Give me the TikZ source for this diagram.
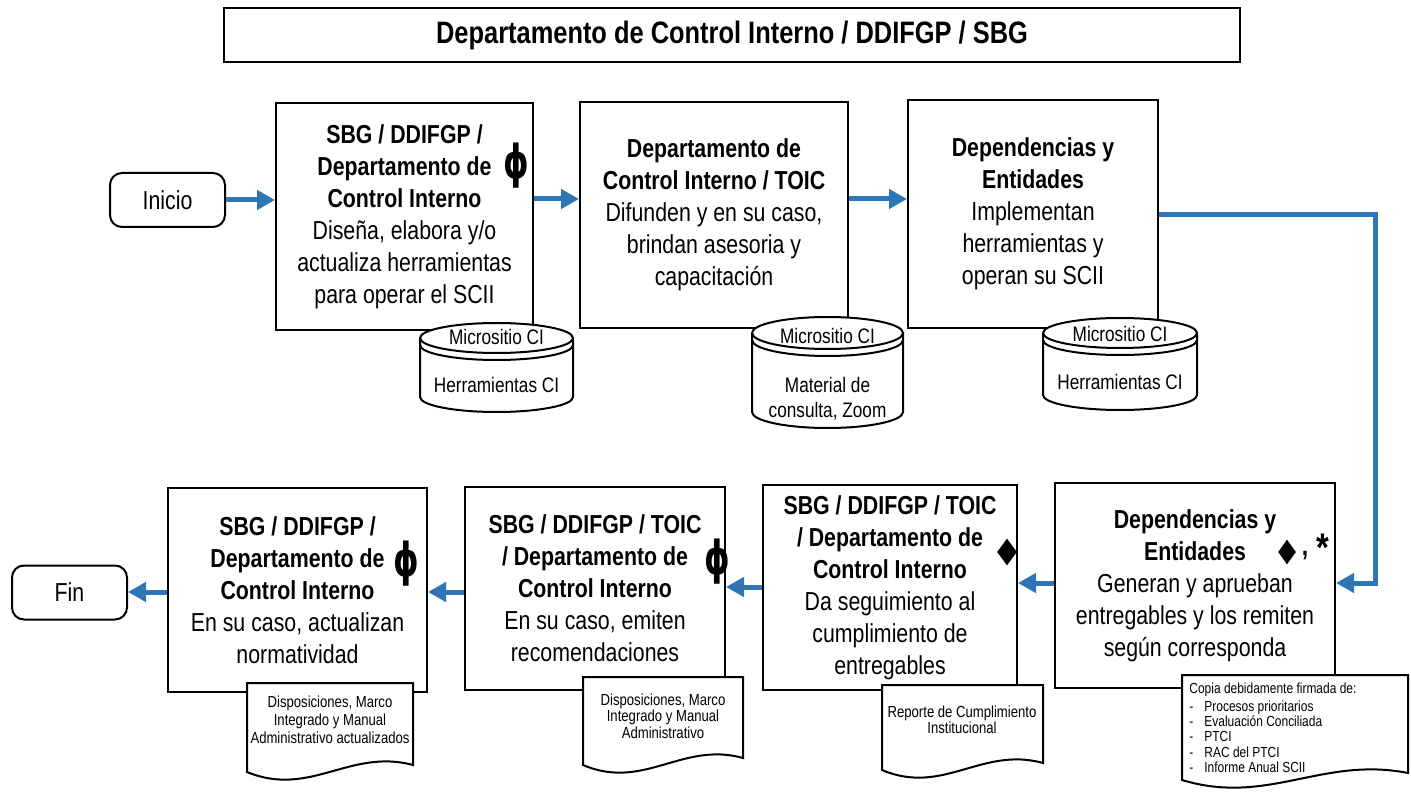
\documentclass[tikz,border=0pt]{standalone}
\usepackage{fontspec}
\setmainfont{Liberation Sans}[FakeStretch=0.82]
\newfontfamily\tksymfont{DejaVu Sans}
\usetikzlibrary{arrows.meta,shapes.geometric}
\definecolor{flowblue}{RGB}{46,117,182}
\newcommand{\tkBox}{\fontsize{13}{16}\selectfont}
\newcommand{\tkTitle}{\fontsize{15.5}{18}\selectfont\bfseries}
\newcommand{\tkCyl}{\fontsize{10.5}{12.5}\selectfont}
\newcommand{\tkDocA}{\fontsize{8}{9}\selectfont}
\newcommand{\tkDocB}{\fontsize{8}{8.2}\selectfont}
\newcommand{\tkSmall}{\fontsize{7.3}{7.6}\selectfont}
\newcommand{\tkphi}{\scalebox{0.9}[1.3]{\tksymfont\bfseries\fontsize{18}{18}\selectfont ϕ}}
% cylinder: x0, x1, top-centre y, bottom-centre y, ry   (px, y downwards)
\newcommand{\tkcyl}[5]{%
  \pgfmathsetmacro{\tkrx}{(#2-#1)/2}%
  \filldraw[line width=1pt,fill=white] (#1,-#3) -- (#1,-#4)
     arc[start angle=180,end angle=360,x radius=\tkrx,y radius=#5] -- (#2,-#3)
     arc[start angle=0,end angle=180,x radius=\tkrx,y radius=#5] -- cycle;
  \draw[line width=1pt] (#1,-#3) arc[start angle=180,end angle=360,x radius=\tkrx,y radius=#5];
  \draw[line width=1pt] (#1,{-#3-7}) arc[start angle=180,end angle=360,x radius=\tkrx,y radius=#5];
}
% document: x0, x1, top y, bottom-left y
\newcommand{\tkdoc}[4]{%
  \pgfmathsetmacro{\tkdw}{#2-#1}%
  \filldraw[line width=1pt,fill=white,line join=miter] (#1,-#3) -- (#2,-#3) -- (#2,{-(#4-7)})
     .. controls ({#1+0.62*\tkdw},{-(#4-24)}) and ({#1+0.38*\tkdw},{-(#4+26)}) .. (#1,-#4) -- cycle;
}
\begin{document}
\begin{tikzpicture}[x=0.5pt,y=0.5pt,
  proc/.style={draw,line width=1pt,fill=white,align=center,font=\tkBox,inner sep=2pt},
  term/.style={draw,line width=1pt,rounded corners=6pt,minimum width=57.5pt,minimum height=27pt,font=\tkBox},
  flow/.style={draw=flowblue,line width=2.5pt,-{Triangle[length=9pt,width=9.5pt]}},
  cyltext/.style={font=\tkCyl,align=center,inner sep=0pt},
  doctext/.style={align=center,inner sep=0pt}]
\useasboundingbox (0,0) rectangle (1411,-801);

% title
\node[draw,line width=1pt,minimum width=508pt,minimum height=27pt,font=\tkTitle] (title) at (732,-35)
  {Departamento de Control Interno / DDIFGP / SBG};

% top row
\node[term] (inicio) at (167.5,-200) {Inicio};
\node[proc,minimum width=128.5pt,minimum height=113.5pt] (b1) at (404.5,-216.5)
  {\textbf{SBG / DDIFGP /}\\\textbf{Departamento de}\\\textbf{Control Interno}\\Diseña, elabora y/o\\actualiza herramientas\\para operar el SCII};
\node[inner sep=0pt] (phi1) at (516,-166) {\tkphi};
\node[proc,minimum width=134pt,minimum height=113pt] (b2) at (714,-215)
  {\textbf{Departamento de}\\\textbf{Control Interno / TOIC}\\Difunden y en su caso,\\brindan asesoria y\\capacitación};
\node[proc,minimum width=125pt,minimum height=114pt] (b3) at (1033,-214)
  {\textbf{Dependencias y}\\\textbf{Entidades}\\Implementan\\herramientas  y\\operan su SCII};

\tkcyl{420}{573}{338}{397}{15}
\node[cyltext] (c1a) at (496.5,-337) {Micrositio CI};
\node[cyltext] (c1b) at (496.5,-385) {Herramientas CI};
\tkcyl{752}{903}{333}{412}{16}
\node[cyltext] (c2a) at (827.5,-336) {Micrositio CI};
\node[cyltext] (c2b) at (827.5,-399) {Material de\\consulta, Zoom};
\tkcyl{1043}{1197}{333}{395}{15}
\node[cyltext] (c3a) at (1120,-334) {Micrositio CI};
\node[cyltext] (c3b) at (1120,-382) {Herramientas CI};

% bottom row
\node[proc,minimum width=140pt,minimum height=102.5pt] (b4) at (1195,-585.5)
  {\textbf{Dependencias y}\\\textbf{Entidades}\\Generan y aprueban\\entregables y los remiten\\según corresponda};
\node[shape=diamond,fill=black,inner sep=0pt,minimum width=9pt,minimum height=12.5pt] (d4) at (1287,-552) {};
\node[font=\fontsize{14}{14}\selectfont\bfseries,inner sep=0pt] (cm4) at (1305,-556) {,};
\node[font=\fontsize{20}{20}\selectfont\bfseries,inner sep=0pt] (ast4) at (1323,-548) {*};

\node[proc,minimum width=127pt,minimum height=102.5pt] (b5) at (890,-587.5)
  {\textbf{SBG / DDIFGP / TOIC}\\\textbf{/ Departamento de}\\\textbf{Control Interno}\\Da seguimiento  al\\cumplimiento  de\\entregables};
\node[shape=diamond,fill=black,inner sep=0pt,minimum width=10pt,minimum height=13.5pt] (d5) at (1007,-552) {};

\node[proc,minimum width=130pt,minimum height=101.5pt] (b6) at (595,-588.5)
  {\textbf{SBG / DDIFGP / TOIC}\\\textbf{/ Departamento de}\\\textbf{Control Interno}\\En su caso, emiten\\recomendaciones};
\node[inner sep=0pt] (phi6) at (717,-562) {\tkphi};

\node[proc,minimum width=129.5pt,minimum height=102pt] (b7) at (297.5,-590)
  {\textbf{SBG / DDIFGP /}\\\textbf{Departamento de}\\\textbf{Control Interno}\\En su caso, actualizan\\normatividad};
\node[inner sep=0pt] (phi7) at (406,-564) {\tkphi};

\node[term] (fin) at (69.5,-592.5) {Fin};

% documents
\tkdoc{1182}{1408}{675}{780}
\node[anchor=north west,align=left,inner sep=0pt,font=\tkSmall] (t4) at (1189,-683)
  {Copia debidamente firmada de:\\[1.2pt]
   \makebox[7.5pt][l]{-}Procesos prioritarios\\
   \makebox[7.5pt][l]{-}Evaluación Conciliada\\
   \makebox[7.5pt][l]{-}PTCI\\
   \makebox[7.5pt][l]{-}RAC del PTCI\\
   \makebox[7.5pt][l]{-}Informe Anual SCII};
\tkdoc{882}{1043}{685}{770}
\node[doctext,font=\tkDocB] (t5) at (962,-720) {Reporte de Cumplimiento\\Institucional};
\tkdoc{583}{743}{677}{765}
\node[doctext,font=\tkDocB] (t6) at (663,-716) {Disposiciones, Marco\\Integrado y Manual\\Administrativo};
\tkdoc{247}{413}{683}{772}
\node[doctext,font=\tkDocA] (t7) at (330,-720) {Disposiciones, Marco\\Integrado y Manual\\Administrativo actualizados};

% connectors
\coordinate (r1) at (0,-199);
\coordinate (k1) at (1375,-215);
\coordinate (k2) at (1375,-583);
\coordinate (r2) at (0,-587);
\coordinate (r3) at (0,-592);
\draw[flow] (inicio.east) -- (inicio.east -| b1.west);
\draw[flow] (b1.east |- r1) -- (b2.west |- r1);
\draw[flow] (b2.east |- r1) -- (b3.west |- r1);
\draw[flow,line join=miter] (k1 -| b3.east) -- (k1) -- (k2) -- (k2 -| b4.east);
\draw[flow] (k2 -| b4.west) -- (k2 -| b5.east);
\draw[flow] (b5.west |- r2) -- (b6.east |- r2);
\draw[flow] (b6.west |- r3) -- (b7.east |- r3);
\draw[flow] (b7.west |- r3) -- (fin.east |- r3);
\end{tikzpicture}
\end{document}
